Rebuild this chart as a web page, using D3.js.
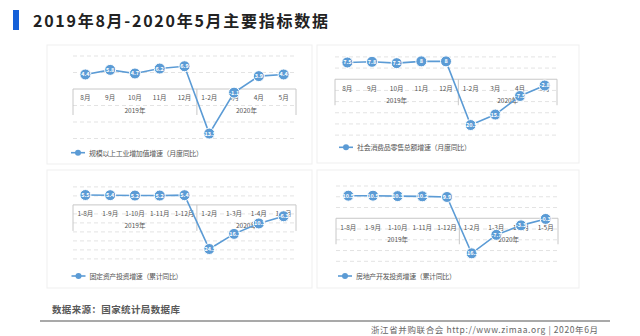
<!DOCTYPE html>
<html><head><meta charset="utf-8">
<script src="https://cdn.jsdelivr.net/npm/d3@7"></script>
<style>
html,body{margin:0;padding:0;background:#fff;}
svg{display:block;font-family:"Noto Sans CJK SC","Noto Sans",sans-serif;}
</style></head>
<body>
<svg id="c" width="640" height="336"></svg>
<script>
// ---------- data ----------
const monthCats = ["8月","9月","10月","11月","12月","1-2月","3月","4月","5月"];
const cumCats = ["1-8月","1-9月","1-10月","1-11月","1-12月","1-2月","1-3月","1-4月","1-5月"];
const yearLabels = ["2019年","2020年"];
const yearGroupSizes = [5,4];
const industryValues = [4.4,5.8,4.7,6.2,6.9,-13.5,-1.1,3.9,4.4];
const retailValues = [7.5,7.8,7.2,8,8,-20.5,-15.8,-7.5,-2.8];
const fixedAssetValues = [5.5,5.4,5.2,5.2,5.4,-24.5,-16.1,-10.3,-6.3];
const realEstateValues = [10.5,10.5,10.3,10.2,9.9,-16.3,-7.7,-3.3,-0.3];
const seriesNames = ["规模以上工业增加值增速（月度同比）","社会消费品零售总额增速（月度同比）","固定资产投资增速（累计同比）","房地产开发投资增速（累计同比）"];
const yDomains = [[-15,10],[-25,10],[-30,10],[-20,15]];
const titleText = "2019年8月-2020年5月主要指标数据";
const sourceText = "数据来源：国家统计局数据库";
const footerText = "浙江省并购联合会   http://www.zimaa.org | 2020年6月";

// ---------- layout ----------
const svg = d3.select("#c");
const blue = "#5b9bd5";

// title
svg.append("rect").attr("x",13).attr("y",10).attr("width",6).attr("height",20).attr("fill","#1560d8");
svg.append("text").attr("x",33).attr("y",26.5).attr("font-size",16).attr("font-weight","bold")
  .attr("fill","#222").attr("textLength",295).attr("lengthAdjust","spacing").text(titleText);

// panel frames
const frames = [[47,45,265,119],[317,45,262,118],[47,170,265,118],[317,170,262,118]];
frames.forEach(f=>{
  svg.append("rect").attr("x",f[0]).attr("y",f[1]).attr("width",f[2]).attr("height",f[3])
    .attr("fill","#fff").attr("stroke","#efefef").attr("stroke-width",1);
});

const panels = [
  {cats:monthCats, vals:industryValues, name:seriesNames[0], dom:yDomains[0], x0:73, x1:296, yr:[138.5,56], legX:71, legY:152.7, legW:114},
  {cats:monthCats, vals:retailValues, name:seriesNames[1], dom:yDomains[1], x0:335, x1:557, yr:[135.1,56.9], legX:339, legY:147.3, legW:114},
  {cats:cumCats, vals:fixedAssetValues, name:seriesNames[2], dom:yDomains[2], x0:73, x1:296, yr:[258.9,186.9], legX:71.5, legY:276, legW:93},
  {cats:cumCats, vals:realEstateValues, name:seriesNames[3], dom:yDomains[3], x0:336, x1:558, yr:[261.3,186], legX:338, legY:276, legW:100}
];

panels.forEach(p=>{
  const g = svg.append("g");
  const x = d3.scaleBand().domain(p.cats).range([p.x0,p.x1]);
  const y = d3.scaleLinear().domain(p.dom).range(p.yr);
  const cx = d => x(d)+x.bandwidth()/2;
  const y0 = y(0);

  // dashed gridlines
  const ticks = d3.range(p.dom[0], p.dom[1]+0.001, 5).filter(t=>t!==0);
  g.selectAll(".grid").data(ticks).join("line")
    .attr("x1",p.x0).attr("x2",p.x1).attr("y1",d=>y(d)).attr("y2",d=>y(d))
    .attr("stroke","#e3e3e3").attr("stroke-dasharray","4,3").attr("stroke-width",1);

  // category axis box at zero
  const boxH = 26;
  const divX = x(p.cats[yearGroupSizes[0]]);
  g.append("line").attr("x1",p.x0).attr("x2",p.x1).attr("y1",y0).attr("y2",y0).attr("stroke","#c8c8c8");
  [p.x0, divX, p.x1].forEach(xx=>{
    g.append("line").attr("x1",xx).attr("x2",xx).attr("y1",y0).attr("y2",y0+boxH).attr("stroke","#c8c8c8");
  });
  g.selectAll(".cat").data(p.cats).join("text")
    .attr("x",cx).attr("y",y0+8.4).attr("dominant-baseline","central").attr("text-anchor","middle")
    .attr("font-size",6.5).attr("fill","#555").text(d=>d);
  const ys = [[p.x0,divX],[divX,p.x1]];
  g.selectAll(".yr").data(yearLabels).join("text")
    .attr("x",(d,i)=>(ys[i][0]+ys[i][1])/2).attr("y",y0+20.5).attr("dominant-baseline","central")
    .attr("text-anchor","middle").attr("font-size",6.5).attr("fill","#555").text(d=>d);

  // line
  const pts = p.cats.map((c,i)=>[cx(c), y(p.vals[i]), p.vals[i]]);
  g.append("path").attr("d",d3.line()(pts.map(d=>[d[0],d[1]])))
    .attr("fill","none").attr("stroke",blue).attr("stroke-width",1.6);
  g.selectAll(".mk").data(pts).join("circle")
    .attr("cx",d=>d[0]).attr("cy",d=>d[1]).attr("r",5.5)
    .attr("fill",blue).attr("stroke","#fff").attr("stroke-width",1);
  g.selectAll(".mt").data(pts).join("text")
    .attr("x",d=>d[0]).attr("y",d=>d[1]).attr("dominant-baseline","central").attr("text-anchor","middle")
    .attr("font-size",5.5).attr("font-weight","bold").attr("fill","#fff").text(d=>String(d[2]));

  // legend
  g.append("line").attr("x1",p.legX).attr("x2",p.legX+14).attr("y1",p.legY).attr("y2",p.legY)
    .attr("stroke",blue).attr("stroke-width",1.6);
  g.append("circle").attr("cx",p.legX+7).attr("cy",p.legY).attr("r",3).attr("fill",blue);
  g.append("text").attr("x",p.legX+18).attr("y",p.legY).attr("dominant-baseline","central")
    .attr("font-size",7).attr("fill","#555").attr("textLength",p.legW).attr("lengthAdjust","spacing").text(p.name);
});

// footer
svg.append("text").attr("x",52).attr("y",309).attr("dominant-baseline","central")
  .attr("font-size",9.5).attr("font-weight","bold").attr("fill","#595959").attr("textLength",128).attr("lengthAdjust","spacing").text(sourceText);
svg.append("line").attr("x1",40).attr("x2",610).attr("y1",321).attr("y2",321).attr("stroke","#8c8c8c").attr("stroke-width",1.5);
svg.append("text").attr("x",371).attr("y",329).attr("dominant-baseline","central")
  .attr("font-size",8.5).attr("fill","#666").attr("textLength",227).attr("lengthAdjust","spacing").text(footerText);
</script>
</body></html>
